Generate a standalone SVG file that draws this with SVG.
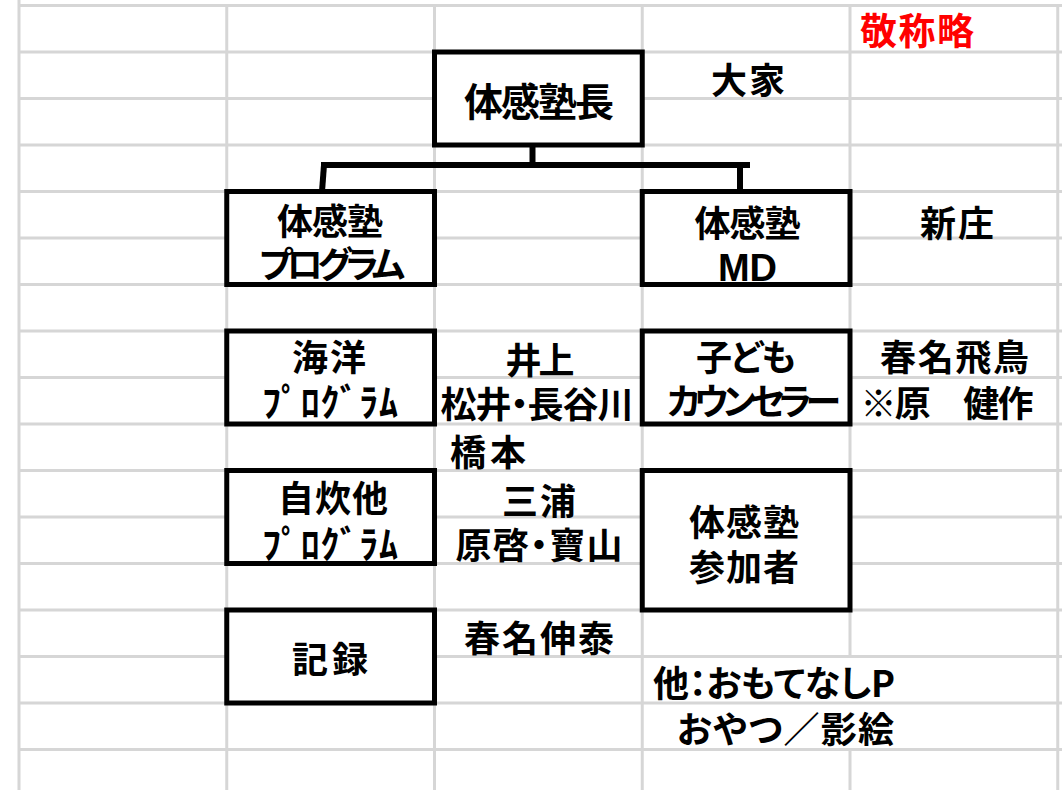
<svg xmlns="http://www.w3.org/2000/svg" width="1062" height="790" viewBox="0 0 1062 790">
<style>
.grid{stroke:#d6d6d6;stroke-width:3;fill:none}
.box{fill:#fff;stroke:#000;stroke-width:5}
.con{stroke:#000;stroke-width:6;fill:none}
text{font-family:"Noto Sans CJK JP","Noto Sans CJK SC",sans-serif;font-weight:700;font-size:36px;fill:#000;text-anchor:middle;font-feature-settings:"palt"}
.lat{font-family:"Liberation Sans",Arial,sans-serif;font-size:38px}
.red{fill:#ff0000;font-size:37px}
.big{font-size:39px}
.hw{font-size:38px}
.st{text-anchor:start}
</style>
<rect width="1062" height="790" fill="#fff"/>
<g id="grid">
<path class="grid" d="M19,5.5H1062 M19,52H1062 M19,98.5H1062 M19,145H1062 M19,191.5H1062 M19,238H1062 M19,284.5H1062 M19,331H1062 M19,377.5H1062 M19,424H1062 M19,470.5H1062 M19,517H1062 M19,563.5H1062 M19,610H1062 M19,656.5H1062 M19,703H1062 M19,749.5H1062"/>
<path class="grid" d="M19,0V790 M226.75,5.5V790 M434.5,5.5V790 M642.25,5.5V790 M850,5.5V656.5 M850,749.5V790 M1057.75,5.5V790"/>
</g>
<g id="connectors">
<path class="con" d="M532.5,145V165"/>
<path class="con" d="M321,165H750"/>
<path class="con" d="M324,165L322,191.5"/>
<path class="con" d="M740,165V191.5"/>
</g>
<g id="n-note"><text class="red" x="917" y="44.5" textLength="114">敬称略</text></g>
<g id="n-head">
<rect class="box" x="434.5" y="52" width="207.75" height="93"/>
<text class="big" x="539" y="115.5" textLength="150">体感塾長</text>
</g>
<g id="n-head-name"><text x="748" y="94" textLength="74">大家</text></g>
<g id="n-program">
<rect class="box" x="226.75" y="191.5" width="207.75" height="93"/>
<text x="330" y="235" textLength="106">体感塾</text>
<text x="332" y="278" textLength="146">プログラム</text>
</g>
<g id="n-md">
<rect class="box" x="642.25" y="191.5" width="207.75" height="93"/>
<text x="747.5" y="237" textLength="106">体感塾</text>
<text class="lat" x="747.5" y="281">MD</text>
</g>
<g id="n-md-name"><text x="957" y="237" textLength="74">新庄</text></g>
<g id="n-ocean">
<rect class="box" x="226.75" y="331" width="207.75" height="93"/>
<text x="329" y="371" textLength="74">海洋</text>
<text class="hw" x="330" y="416" textLength="136">ﾌﾟﾛｸﾞﾗﾑ</text>
</g>
<g id="n-ocean-names">
<text x="540" y="374" textLength="69">井上</text>
<text x="537" y="418" textLength="193">松井・長谷川</text>
<text x="488" y="465.5" textLength="76">橋本</text>
</g>
<g id="n-cook">
<rect class="box" x="226.75" y="470.5" width="207.75" height="93"/>
<text x="333" y="512" textLength="110">自炊他</text>
<text class="hw" x="330" y="558" textLength="136">ﾌﾟﾛｸﾞﾗﾑ</text>
</g>
<g id="n-cook-names">
<text x="539" y="515" textLength="74">三浦</text>
<text x="539" y="559" textLength="167">原啓・寶山</text>
</g>
<g id="n-counselor">
<rect class="box" x="642.25" y="331" width="207.75" height="93"/>
<text x="746" y="371" textLength="100">子ども</text>
<text x="754" y="415" textLength="174">カウンセラー</text>
</g>
<g id="n-counselor-names">
<text x="954.5" y="371" textLength="149">春名飛鳥</text>
<text x="947" y="417" textLength="173">※原　健作</text>
</g>
<g id="n-participants">
<rect class="box" x="642.25" y="470.5" width="207.75" height="139.5"/>
<text x="744" y="535.5" textLength="110">体感塾</text>
<text x="744" y="581" textLength="110">参加者</text>
</g>
<g id="n-record">
<rect class="box" x="226.75" y="610" width="207.75" height="93"/>
<text x="330" y="673" textLength="76">記録</text>
</g>
<g id="n-record-name"><text x="539" y="652" textLength="150">春名伸泰</text></g>
<g id="n-other">
<text class="st" x="653" y="696.5" textLength="242">他：おもてなしP</text>
<text class="st" x="677" y="743" textLength="217">おやつ／影絵</text>
</g>
</svg>
